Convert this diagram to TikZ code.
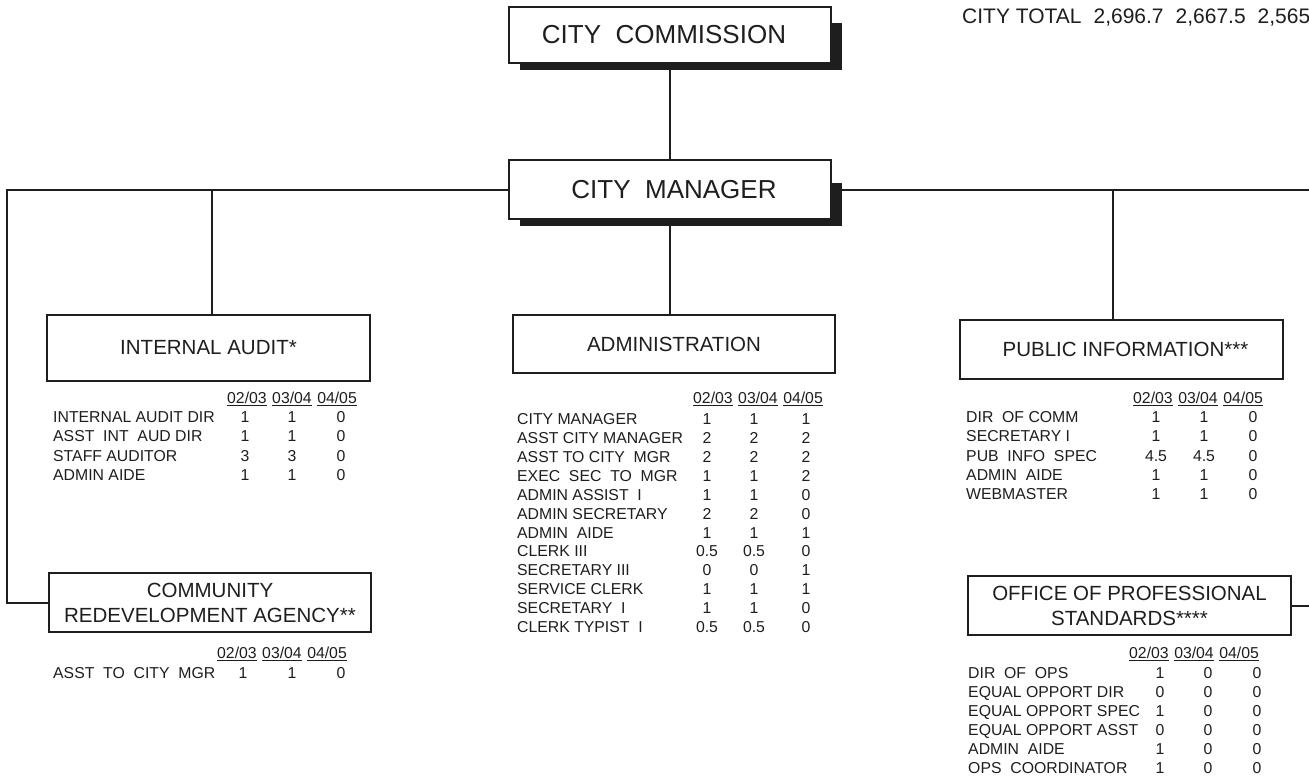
\documentclass[tikz,border=0pt]{standalone}
\usepackage{fontspec}
\setmainfont{Liberation Sans}
\definecolor{ink}{HTML}{1E1E1E}
\newcommand{\yrhdr}{\underline{02/03}\hspace{5.5pt}\underline{03/04}\hspace{5.5pt}\underline{04/05}}
\begin{document}
\begin{tikzpicture}[x=1pt,y=-1pt,
  conn/.style={draw=ink,line width=2pt},
  orgbox/.style={draw=ink,fill=white,line width=2.3pt,inner sep=0pt,align=center,text=ink,
    font=\fontsize{20.5}{26}\selectfont},
  bigbox/.style={orgbox,font=\fontsize{26}{30}\selectfont},
  shadowbox/.style={fill=ink,draw=none},
  lbl/.style={anchor=west,inner sep=0pt,text=ink,font=\fontsize{15.8}{18}\selectfont,text height=11.3pt,text depth=0pt},
  val/.style={anchor=center,inner sep=0pt,text=ink,font=\fontsize{15.8}{18}\selectfont,text height=11.3pt,text depth=0pt},
  hdr/.style={anchor=west,inner sep=0pt,text=ink,font=\fontsize{15.8}{18}\selectfont,text height=11.3pt,text depth=0pt}
]
\clip (0,0) rectangle (1309,779);
\fill[white] (0,0) rectangle (1309,779);

% connector junctions
\coordinate (lt) at (7,189.5);
\coordinate (lb) at (7,602.5);
\coordinate (iaj) at (212,189.5);
\coordinate (pij) at (1113,189.5);
\coordinate (rs) at (842,189.5);
\coordinate (rt) at (1316,189.5);
\coordinate (rb) at (1316,605.5);
\coordinate (adj) at (670,226);

% shadows
\fill[shadowbox] (520,23) rectangle (842,70);
\fill[shadowbox] (520,183) rectangle (842,226);

\node[bigbox,minimum width=322pt,minimum height=56pt] (comm) at (670,35) {CITY~~COMMISSION\hspace*{12pt}};
\node[bigbox,minimum width=322pt,minimum height=59pt] (mgr) at (670,189.5) {\hspace*{8pt}CITY~~MANAGER};
\node[orgbox,minimum width=323pt,minimum height=66pt] (ia) at (208.5,348) {INTERNAL AUDIT*};
\node[orgbox,minimum width=322pt,minimum height=58pt] (adm) at (674,344) {ADMINISTRATION};
\node[orgbox,minimum width=323pt,minimum height=59pt] (pi) at (1121.5,349.5) {\hspace*{8pt}PUBLIC INFORMATION***};
\node[orgbox,minimum width=322pt,minimum height=59pt,font=\fontsize{20.5}{25}\selectfont] (cra) at (210,602.5) {COMMUNITY\\REDEVELOPMENT AGENCY**};
\node[orgbox,minimum width=323pt,minimum height=59pt,font=\fontsize{20.5}{25}\selectfont] (ops) at (1129.5,605.5) {OFFICE OF PROFESSIONAL\\STANDARDS****};

% connectors
\draw[conn] (comm.south) -- (mgr.north);
\draw[conn] (mgr.west) -- (lt) -- (lb) -- (cra.west);
\draw[conn] (iaj) -- (iaj |- ia.north);
\draw[conn] (rs) -- (rt) -- (rb) -- (ops.east);
\draw[conn] (pij) -- (pij |- pi.north);
\draw[conn] (adj) -- (adj |- adm.north);

% city total
\node[anchor=west,inner sep=0pt,text=ink,font=\fontsize{21}{24}\selectfont,text height=15pt,text depth=0pt] (tot) at (962,16)
  {CITY TOTAL\hspace{12pt}2,696.7\hspace{12pt}2,667.5\hspace{12pt}2,565};

% Internal audit table
\node[hdr] (iah) at (227,398) {\yrhdr};
\foreach \lab/\a/\b/\c [count=\i] in {INTERNAL AUDIT DIR/1/1/0, ASST~~INT~~AUD DIR/1/1/0, STAFF AUDITOR/3/3/0, ADMIN AIDE/1/1/0}{
  \node[lbl] (ial\i) at (53,{417+19.3*(\i-1)}) {\lab};
  \node[val] (iaa\i) at (245,{417+19.3*(\i-1)}) {\a};
  \node[val] (iab\i) at (292,{417+19.3*(\i-1)}) {\b};
  \node[val] (iac\i) at (341,{417+19.3*(\i-1)}) {\c};
}

% Administration table
\node[hdr] (admh) at (693,398) {\yrhdr};
\foreach \lab/\a/\b/\c [count=\i] in {CITY MANAGER/1/1/1, ASST CITY MANAGER/2/2/2, ASST TO CITY~~MGR/2/2/2, EXEC~~SEC~~TO~~MGR/1/1/2, ADMIN ASSIST~~I/1/1/0, ADMIN SECRETARY/2/2/0, ADMIN~~AIDE/1/1/1, CLERK III/0.5/0.5/0, SECRETARY III/0/0/1, SERVICE CLERK/1/1/1, SECRETARY~~I/1/1/0, CLERK TYPIST~~I/0.5/0.5/0}{
  \node[lbl] (adml\i) at (517,{419+18.9*(\i-1)}) {\lab};
  \node[val] (adma\i) at (707,{419+18.9*(\i-1)}) {\a};
  \node[val] (admb\i) at (754,{419+18.9*(\i-1)}) {\b};
  \node[val] (admc\i) at (806,{419+18.9*(\i-1)}) {\c};
}

% Public information table
\node[hdr] (pih) at (1133,398) {\yrhdr};
\foreach \lab/\a/\b/\c [count=\i] in {DIR~~OF COMM/1/1/0, SECRETARY I/1/1/0, PUB~~INFO~~SPEC/4.5/4.5/0, ADMIN~~AIDE/1/1/0, WEBMASTER/1/1/0}{
  \node[lbl] (pil\i) at (966,{417+19.2*(\i-1)}) {\lab};
  \node[val] (pia\i) at (1156,{417+19.2*(\i-1)}) {\a};
  \node[val] (pib\i) at (1204,{417+19.2*(\i-1)}) {\b};
  \node[val] (pic\i) at (1253,{417+19.2*(\i-1)}) {\c};
}

% Community redevelopment table
\node[hdr] (crah) at (217,653) {\yrhdr};
\node[lbl] (cral1) at (53,673) {ASST~~TO~~CITY~~MGR};
\node[val] (craa1) at (243,673) {1};
\node[val] (crab1) at (292,673) {1};
\node[val] (crac1) at (341,673) {0};

% Professional standards table
\node[hdr] (opsh) at (1129,653) {\yrhdr};
\foreach \lab/\a/\b/\c [count=\i] in {DIR~~OF~~OPS/1/0/0, EQUAL OPPORT DIR/0/0/0, EQUAL OPPORT SPEC/1/0/0, EQUAL OPPORT ASST/0/0/0, ADMIN~~AIDE/1/0/0, OPS~~COORDINATOR/1/0/0}{
  \node[lbl] (opsl\i) at (968,{673+19*(\i-1)}) {\lab};
  \node[val] (opsa\i) at (1160,{673+19*(\i-1)}) {\a};
  \node[val] (opsb\i) at (1208,{673+19*(\i-1)}) {\b};
  \node[val] (opsc\i) at (1257,{673+19*(\i-1)}) {\c};
}
\end{tikzpicture}
\end{document}
